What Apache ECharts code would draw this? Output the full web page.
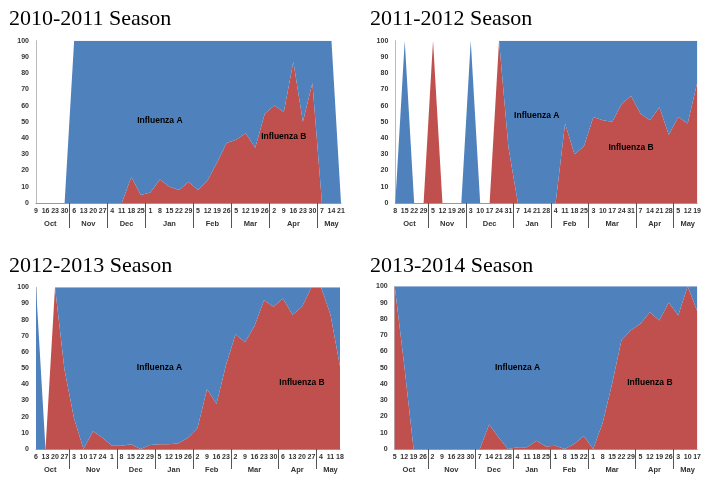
<!DOCTYPE html>
<html>
<head>
<meta charset="utf-8">
<script src="https://cdn.jsdelivr.net/npm/echarts@6/dist/echarts.min.js"></script>
<style>
html,body{margin:0;padding:0;background:#fff;}
#c{width:704px;height:486px;}
</style>
</head>
<body>
<div id="c"></div>
<script>
// ---------- DATA ----------
const titles = ['2010-2011 Season', '2011-2012 Season', '2012-2013 Season', '2013-2014 Season'];
const monthNames = ['Oct', 'Nov', 'Dec', 'Jan', 'Feb', 'Mar', 'Apr', 'May'];

const weeks1 = ['9','16','23','30','6','13','20','27','4','11','18','25','1','8','15','22','29','5','12','19','26','5','12','19','26','2','9','16','23','30','7','14','21'];
const monthCounts1 = [4,4,4,5,4,4,5,3];
const fluB1 = [0,0,0,0, 0,0,0,0, 0,0,16,5, 6.5,14.5,10,8,13, 8,14,25,37, 39,43,34,55, 60,56,87,50,74, 0,0,0];
const fluA1 = [0,0,0,0, 100,100,100,100, 100,100,84,95, 93.5,85.5,90,92,87, 92,86,75,63, 61,57,66,45, 40,44,13,50,26, 100,100,0];

const weeks2 = ['8','15','22','29','5','12','19','26','3','10','17','24','31','7','14','21','28','4','11','18','25','3','10','17','24','31','7','14','21','28','5','12','19'];
const monthCounts2 = [4,4,5,4,4,5,4,3];
const fluB2 = [0,0,0,0, 100,0,0,0, 0,0,0,100,34, 0,0,0,0, 0,49,30,35, 53,51,50,61,66, 55,51,59,42, 53,49,74];
const fluA2 = [0,100,0,0, 0,0,0,0, 100,0,0,0,66, 100,100,100,100, 100,51,70,65, 47,49,50,39,34, 45,49,41,58, 47,51,26];

const weeks3 = ['6','13','20','27','3','10','17','24','1','8','15','22','29','5','12','19','26','2','9','16','23','2','9','16','23','30','6','13','20','27','4','11','18'];
const monthCounts3 = [4,5,4,4,4,5,4,3];
const fluB3 = [0,0,100,49, 19,0,11,7,2, 2,3,0,2.5, 3,3,3.5,7, 13,37,28,52, 71,66,76,92,88, 93,83,88,100, 100,83,51];
const fluA3 = [100,0,0,51, 81,100,89,93,98, 98,97,100,97.5, 97,97,96.5,93, 87,63,72,48, 29,34,24,8,12, 7,17,12,0, 0,17,49];

const weeks4 = ['5','12','19','26','2','9','16','23','30','7','14','21','28','4','11','18','25','1','8','15','22','1','8','15','22','29','5','12','19','26','3','10','17'];
const monthCounts4 = [4,5,4,4,4,5,4,3];
const fluB4 = [100,52,0,0, 0,0,0,0,0, 0,15,7,0, 1,1,5,1.5, 2,0,3,8, 0,16,40,67,73, 77,84,79,90, 82,100,85];
const fluA4 = [0,48,100,100, 100,100,100,100,100, 100,85,93,100, 99,99,95,98.5, 98,100,97,92, 100,84,60,33,27, 23,16,21,10, 18,0,15];

const yTicks = {min: 0, max: 100, interval: 10};

// ---------- LAYOUT / STYLE ----------
const BLUE = '#4F81BD', RED = '#C0504D';
const panels = [
  {weeks: weeks1, counts: monthCounts1, A: fluA1, B: fluB1,
   grid: {left: 36, right: 363, top: 40.7, bottom: 283}, title: {left: 9, top: 8},
   labA: [13, 50.7], labB: [26.3, 41], tickLen: 25},
  {weeks: weeks2, counts: monthCounts2, A: fluA2, B: fluB2,
   grid: {left: 395.3, right: 4, top: 40.7, bottom: 283}, title: {left: 370, top: 8},
   labA: [15.4, 54], labB: [24.9, 34], tickLen: 25},
  {weeks: weeks3, counts: monthCounts3, A: fluA3, B: fluB3,
   grid: {left: 36, right: 364, top: 287.3, bottom: 37}, title: {left: 9, top: 255},
   labA: [13, 50], labB: [27.5, 41], tickLen: 20},
  {weeks: weeks4, counts: monthCounts4, A: fluA4, B: fluB4,
   grid: {left: 394.7, right: 4.3, top: 286.3, bottom: 37}, title: {left: 370, top: 255},
   labA: [12.9, 50], labB: [27.3, 41], tickLen: 20}
];

function monthAxisData(counts) {
  const n = counts.reduce((a, b) => a + b, 0);
  const cats = new Array(2 * n - 1).fill('');
  const seps = new Set();
  let start = 0;
  counts.forEach((c, m) => {
    const end = start + c - 1;
    cats[start + end] = monthNames[m];
    if (start > 0) seps.add(2 * start - 1);
    start += c;
  });
  return {cats, seps};
}

const option = {
  animation: false,
  backgroundColor: '#fff',
  title: [], grid: [], xAxis: [], yAxis: [], series: []
};

const labelFont = 'Liberation Sans, Arial, sans-serif';

panels.forEach((p, i) => {
  option.title.push({
    text: titles[i], left: p.title.left, top: p.title.top, padding: 0,
    textStyle: {fontFamily: 'Liberation Serif, Times New Roman, serif', fontSize: 22, fontWeight: 'normal', color: '#000'}
  });
  option.grid.push(Object.assign({containLabel: false}, p.grid));
  option.xAxis.push({
    type: 'category', gridIndex: i, data: p.weeks, boundaryGap: false,
    axisLine: {show: true, lineStyle: {color: '#999', width: 1}},
    axisTick: {show: false},
    axisLabel: {interval: 0, fontSize: 7, fontWeight: 'bold', color: '#333', margin: 5, fontFamily: labelFont},
    splitLine: {show: false}, z: 10
  });
  const md = monthAxisData(p.counts);
  option.xAxis.push({
    type: 'category', gridIndex: i, data: md.cats, boundaryGap: false, position: 'bottom',
    axisLine: {show: false},
    axisTick: {show: true, length: p.tickLen, interval: (idx) => md.seps.has(idx),
               lineStyle: {color: '#555', width: 1}},
    axisLabel: {interval: 0, fontSize: 7.5, fontWeight: 'bold', color: '#333', margin: 17, fontFamily: labelFont},
    splitLine: {show: false}, z: 10
  });
  option.yAxis.push({
    type: 'value', gridIndex: i, min: yTicks.min, max: yTicks.max, interval: yTicks.interval,
    axisLine: {show: true, lineStyle: {color: '#bbb', width: 1}},
    axisTick: {show: false},
    splitLine: {show: false},
    axisLabel: {fontSize: 7, fontWeight: 'bold', color: '#333', margin: 7, fontFamily: labelFont}
  });
  const mp = (coord, text) => ({
    symbol: 'circle', symbolSize: 1, silent: true,
    itemStyle: {color: 'rgba(0,0,0,0)'},
    label: {show: true, position: 'inside', color: '#000', fontSize: 8.5, fontWeight: 'bold', fontFamily: labelFont, formatter: text},
    data: [{coord: coord}]
  });
  option.series.push({
    name: 'Influenza B', type: 'line', xAxisIndex: 2 * i, yAxisIndex: i,
    stack: 'flu' + i, data: p.B, symbol: 'none', smooth: false,
    lineStyle: {width: 0}, areaStyle: {color: RED, opacity: 1}, itemStyle: {color: RED},
    markPoint: mp(p.labB, 'Influenza B'), z: 2
  });
  option.series.push({
    name: 'Influenza A', type: 'line', xAxisIndex: 2 * i, yAxisIndex: i,
    stack: 'flu' + i, data: p.A, symbol: 'none', smooth: false,
    lineStyle: {width: 0}, areaStyle: {color: BLUE, opacity: 1}, itemStyle: {color: BLUE},
    markPoint: mp(p.labA, 'Influenza A'), z: 2
  });
});

const chart = echarts.init(document.getElementById('c'), null, {renderer: 'canvas'});
chart.setOption(option);
</script>
</body>
</html>
